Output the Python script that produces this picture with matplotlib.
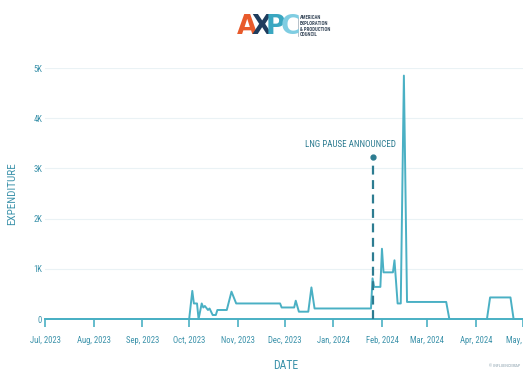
import matplotlib
matplotlib.use("Agg")
import matplotlib.pyplot as plt
import matplotlib.dates as mdates
import numpy as np

# daily expenditure series (breakpoints of the step-like line)
dates = [
    "2023-07-01", "2023-10-01", "2023-10-03", "2023-10-04", "2023-10-06",
    "2023-10-07", "2023-10-09", "2023-10-10", "2023-10-11", "2023-10-13",
    "2023-10-14", "2023-10-16", "2023-10-18", "2023-10-19", "2023-10-25",
    "2023-10-28", "2023-10-31", "2023-11-28", "2023-11-29", "2023-12-07",
    "2023-12-08", "2023-12-10", "2023-12-16", "2023-12-18", "2023-12-20",
    "2024-01-25", "2024-01-26", "2024-01-27", "2024-01-31", "2024-02-01",
    "2024-02-02", "2024-02-08", "2024-02-09", "2024-02-11", "2024-02-13",
    "2024-02-15", "2024-02-17", "2024-03-13", "2024-03-15", "2024-04-08",
    "2024-04-10", "2024-04-23", "2024-04-25", "2024-05-03",
]
spend = [
    0, 0, 560, 310, 310,
    0, 310, 230, 260, 180,
    210, 80, 80, 180, 180,
    545, 310, 310, 230, 230,
    365, 146, 146, 630, 210,
    210, 810, 640, 640, 1400,
    930, 930, 1170, 310, 310,
    4850, 340, 340, 0, 0,
    430, 430, 0, 0,
]

event_date = "2024-01-26"
event_label = "LNG PAUSE ANNOUNCED"
event_height = 3230

tick_months = ["2023-07-01", "2023-08-01", "2023-09-01", "2023-10-01", "2023-11-01",
               "2023-12-01", "2024-01-01", "2024-02-01", "2024-03-01", "2024-04-01",
               "2024-05-01"]

teal = "#4ab0c4"
text_c = "#3d93ab"
dark = "#2d7c91"

plt.rcParams["font.family"] = ["Roboto Condensed", "Liberation Sans Narrow", "DejaVu Sans"]
plt.rcParams["font.stretch"] = "condensed"

fig = plt.figure(figsize=(5.23, 3.74), dpi=100)
ax = fig.add_axes([0.086, 0.147, 0.92, 0.671])

x = np.array(dates, dtype="datetime64[D]")
ax.plot(x, spend, color=teal, lw=1.4, solid_joinstyle="round", clip_on=False, zorder=3)

ev = np.datetime64(event_date)
ax.plot([ev, ev], [0, event_height], color=dark, lw=1.6, ls=(0, (4, 2.5)), zorder=4)
ax.plot([ev], [event_height], "o", color=dark, ms=3.5, zorder=5)
ax.text(ev - np.timedelta64(14, "D"), event_height + 150, event_label, color=dark,
        fontsize=6.5, ha="center", va="bottom")

ax.set_xlim(np.datetime64("2023-07-01"), np.datetime64("2024-05-03"))
ax.set_ylim(0, 5000)
ax.set_yticks([0, 1000, 2000, 3000, 4000, 5000])
ax.set_yticklabels(["0", "1K", "2K", "3K", "4K", "5K"])
ax.set_xticks(np.array(tick_months, dtype="datetime64[D]"))
ax.xaxis.set_major_formatter(mdates.DateFormatter("%b, %Y"))

ax.grid(axis="y", color="#eaf2f5", lw=0.8)
ax.set_axisbelow(True)
for s in ["top", "right", "left"]:
    ax.spines[s].set_visible(False)
ax.spines["bottom"].set_color(teal)
ax.spines["bottom"].set_linewidth(1.4)
ax.tick_params(axis="x", colors=teal, length=6, width=1.2, labelsize=6.2, labelcolor=text_c, pad=6)
ax.tick_params(axis="y", length=0, labelsize=6.2, labelcolor=text_c, pad=2)

ax.set_ylabel("EXPENDITURE", color=text_c, fontsize=8, labelpad=12)
ax.set_xlabel("DATE", color=text_c, fontsize=8.5, labelpad=10)

# logo
logo = [("A", "#e85a2b"), ("X", "#1f3d5e"), ("P", "#3aa7c1"), ("C", "#7fcde2")]
lx = 0.452
for ch, col in logo:
    fig.text(lx, 0.928, ch, color=col, fontsize=19, fontweight="bold",
             ha="left", va="center", family=["DejaVu Sans"], stretch="normal")
    lx += 0.028
fig.add_artist(plt.Line2D([0.569, 0.569], [0.905, 0.955], color="#9aa8b3", lw=0.5))
fig.text(0.574, 0.93, "AMERICAN\nEXPLORATION\n& PRODUCTION\nCOUNCIL", color="#3a4a5c",
         fontsize=3.5, ha="left", va="center", linespacing=1.2, fontweight="bold")

fig.text(0.995, 0.015, "© INFLUENCEMAP", color="#8aa0ac", fontsize=3, ha="right", va="bottom")

fig.savefig("out.png", dpi=100)
